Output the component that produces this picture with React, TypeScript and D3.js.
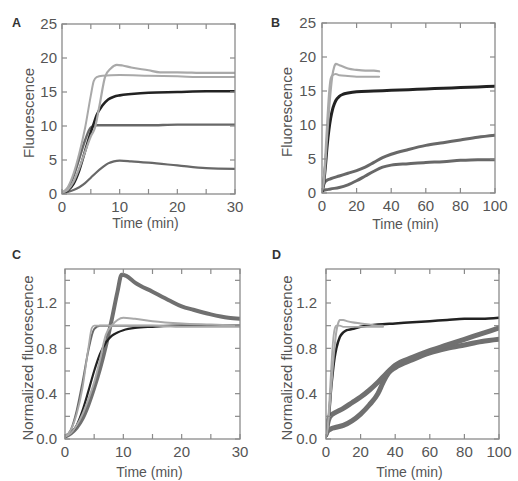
import React from "react";
import * as d3 from "d3";

// ---------- Panel A (Fluorescence, 0-30 min) ----------
const tA_L1 = [0, 1, 2, 3, 4, 5, 5.5, 6, 7, 10, 15, 20, 25, 30];
const vA_L1 = [0.2, 1, 3, 6, 9.7, 14.5, 16.6, 17.2, 17.4, 17.5, 17.4, 17.3, 17.2, 17.2];
const tA_L2 = [0, 1, 2, 3, 4, 5, 5.7, 6.5, 7.5, 8.5, 9.5, 10.5, 12, 15, 17, 20, 25, 30];
const vA_L2 = [0.2, 0.6, 1.8, 3.8, 6.2, 8.5, 9.7, 13, 17.3, 18.5, 19, 18.9, 18.6, 18.2, 17.9, 17.9, 17.8, 17.8];
const tA_K = [0, 1, 2, 3, 4, 5, 5.4, 6, 7, 8, 9, 10, 12, 15, 20, 25, 30];
const vA_K = [0.1, 0.5, 1.5, 3.5, 6.3, 9.1, 10.1, 11.6, 13, 13.9, 14.3, 14.5, 14.7, 14.9, 15.0, 15.1, 15.1];
const tA_G1 = [0, 1, 2, 3, 4, 5, 6, 8, 10, 15, 20, 25, 30];
const vA_G1 = [0.2, 0.8, 2.6, 5.2, 7.9, 9.8, 10.1, 10.1, 10.1, 10.1, 10.2, 10.2, 10.2];
const tA_G2 = [0, 1, 2, 3, 4, 5, 6, 7, 8, 9, 10, 12, 15, 20, 25, 30];
const vA_G2 = [0.2, 0.3, 0.6, 1, 1.6, 2.4, 3.2, 3.9, 4.5, 4.8, 4.9, 4.8, 4.6, 4.2, 3.8, 3.7];

// ---------- Panel B (Fluorescence, 0-100 min) ----------
const tB_L1 = [0, 1, 2, 3, 4, 5, 6, 8, 10, 15, 20, 25, 30, 33];
const vB_L1 = [0.3, 2, 6, 10.5, 14.5, 16.8, 17.3, 17.5, 17.3, 17.2, 17.1, 17.1, 17.1, 17.1];
const tB_L2 = [0, 1, 2, 3, 4, 5, 6, 7, 8, 10, 12, 15, 20, 25, 30, 33];
const vB_L2 = [0.3, 1.5, 4.5, 8.5, 12, 15, 17.3, 18.5, 19, 18.8, 18.6, 18.3, 18.1, 18, 18, 17.9];
const tB_K = [0, 1, 2, 3, 4, 5, 6, 7, 8, 10, 12, 15, 20, 30, 40, 50, 60, 70, 80, 90, 100];
const vB_K = [0.2, 1.5, 4, 7, 9.3, 11, 12.2, 13, 13.6, 14.2, 14.5, 14.7, 14.9, 15.0, 15.1, 15.2, 15.3, 15.4, 15.5, 15.6, 15.7];
const tB_G1 = [0, 1, 2, 3, 5, 10, 15, 20, 25, 30, 35, 40, 50, 60, 70, 80, 90, 100];
const vB_G1 = [0.3, 1.2, 1.7, 1.9, 2.1, 2.5, 2.9, 3.3, 3.8, 4.5, 5.2, 5.7, 6.4, 7.0, 7.4, 7.8, 8.2, 8.5];
const tB_G2 = [0, 1, 3, 5, 10, 15, 20, 25, 30, 35, 40, 50, 60, 70, 80, 90, 100];
const vB_G2 = [0.2, 0.4, 0.5, 0.6, 0.8, 1.2, 1.8, 2.5, 3.2, 3.8, 4.1, 4.3, 4.5, 4.6, 4.8, 4.9, 4.9];

// ---------- Panel C (Normalized, 0-30 min) ----------
const tC_L1 = [0, 1, 2, 3, 4, 4.6, 5, 6, 10, 15, 20, 25, 30];
const vC_L1 = [0.02, 0.08, 0.22, 0.45, 0.8, 0.98, 1.0, 1.0, 1.0, 1.0, 0.99, 0.99, 0.99];
const tC_L2 = [0, 1, 2, 3, 4, 5, 6, 7, 8, 9, 10, 12, 15, 20, 25, 30];
const vC_L2 = [0.02, 0.05, 0.12, 0.22, 0.35, 0.5, 0.7, 0.92, 1.0, 1.05, 1.07, 1.06, 1.04, 1.02, 1.01, 1.0];
const tC_K = [0, 1, 2, 3, 4, 5, 6, 7, 8, 9, 10, 12, 15, 20, 25, 30];
const vC_K = [0.02, 0.05, 0.12, 0.25, 0.42, 0.6, 0.75, 0.85, 0.91, 0.94, 0.96, 0.98, 0.99, 1.0, 1.0, 1.0];
const tC_G1 = [0, 1, 2, 3, 4, 5, 6, 8, 10, 15, 20, 25, 30];
const vC_G1 = [0.02, 0.08, 0.25, 0.5, 0.78, 0.97, 1.0, 1.0, 1.0, 1.0, 1.0, 1.0, 1.0];
const tC_G2 = [0, 1, 2, 3, 4, 5, 6, 7, 8, 9, 9.7, 10.5, 12, 15, 18, 20, 22, 25, 28, 30];
const vC_G2 = [0.02, 0.05, 0.1, 0.18, 0.3, 0.45, 0.62, 0.82, 1.05, 1.3, 1.45, 1.44, 1.38, 1.3, 1.22, 1.17, 1.14, 1.1, 1.07, 1.06];

// ---------- Panel D (Normalized, 0-100 min) ----------
const tD_L1 = [0, 1, 2, 3, 4, 5, 6, 8, 10, 15, 20, 25, 30, 33];
const vD_L1 = [0.02, 0.12, 0.35, 0.62, 0.85, 0.97, 1.0, 1.0, 0.99, 0.99, 0.99, 0.99, 0.99, 0.99];
const tD_L2 = [0, 1, 2, 3, 4, 5, 6, 7, 8, 10, 12, 15, 20, 25, 30, 33];
const vD_L2 = [0.02, 0.08, 0.25, 0.45, 0.65, 0.82, 0.95, 1.02, 1.05, 1.05, 1.04, 1.03, 1.02, 1.01, 1.0, 1.0];
const tD_K = [0, 1, 2, 3, 4, 5, 6, 8, 10, 12, 15, 20, 30, 40, 50, 60, 70, 80, 90, 100];
const vD_K = [0.02, 0.1, 0.25, 0.45, 0.6, 0.72, 0.8, 0.9, 0.94, 0.96, 0.97, 0.99, 1.01, 1.02, 1.03, 1.04, 1.05, 1.06, 1.06, 1.07];
const tD_G1 = [0, 1, 2, 3, 5, 10, 15, 20, 25, 30, 35, 40, 50, 60, 70, 80, 90, 100];
const vD_G1 = [0.04, 0.14, 0.19, 0.21, 0.23, 0.27, 0.32, 0.37, 0.43, 0.5, 0.58, 0.65, 0.72, 0.78, 0.83, 0.88, 0.93, 0.98];
const tD_G2 = [0, 1, 3, 5, 10, 15, 20, 25, 30, 33, 36, 40, 50, 60, 70, 80, 90, 100];
const vD_G2 = [0.04, 0.07, 0.09, 0.1, 0.12, 0.16, 0.22, 0.3, 0.4, 0.5, 0.58, 0.63, 0.7, 0.76, 0.8, 0.83, 0.86, 0.88];

// ---------- axes ----------
const ticksFluoY = [0, 5, 10, 15, 20, 25];
const labelsFluoY = [0, 5, 10, 15, 20, 25];
const ticksNormY = [0, 0.2, 0.4, 0.6, 0.8, 1.0, 1.2, 1.4];
const labelsNormY = [0, 0.4, 0.8, 1.2];
const ticksX30 = [0, 5, 10, 15, 20, 25, 30];
const labelsX30 = [0, 10, 20, 30];
const ticksX100 = [0, 20, 40, 60, 80, 100];
const labelsX100 = [0, 20, 40, 60, 80, 100];

const LIGHT = "#a9a9a9";
const BLACK = "#222";
const GRAY = "#686868";
const FONT = "Liberation Sans, Arial, Helvetica, sans-serif";

type Series = { t: number[]; v: number[]; color: string; w: number };

type PanelProps = {
  letter: string;
  letterX: number;
  letterY: number;
  left: number;
  right: number;
  top: number;
  bottom: number;
  xMax: number;
  yMax: number;
  xTicks: number[];
  xLabels: number[];
  yTicks: number[];
  yLabels: number[];
  yFmt: (d: number) => string;
  yTitle: string;
  yTitleX: number;
  xTitleY: number;
  yLabelGap: number;
  series: Series[];
};

function Panel(p: PanelProps) {
  const x = d3.scaleLinear().domain([0, p.xMax]).range([p.left, p.right]);
  const y = d3.scaleLinear().domain([0, p.yMax]).range([p.bottom, p.top]);
  const line = d3
    .line<[number, number]>()
    .x((d) => x(d[0]))
    .y((d) => y(d[1]))
    .curve(d3.curveMonotoneX);
  const tl = 5;
  const frame = "#8a8a8a";
  const clipId = "clip" + p.letter;
  return (
    <g>
      <defs>
        <clipPath id={clipId}>
          <rect x={p.left} y={p.top} width={p.right - p.left} height={p.bottom - p.top} />
        </clipPath>
      </defs>
      <g clipPath={`url(#${clipId})`}>
        {p.series.map((s, i) => (
          <path
            key={i}
            d={line(s.t.map((t, j) => [t, s.v[j]] as [number, number])) || ""}
            fill="none"
            stroke={s.color}
            strokeWidth={s.w}
            strokeLinejoin="round"
            strokeLinecap="round"
          />
        ))}
      </g>
      <rect
        x={p.left}
        y={p.top}
        width={p.right - p.left}
        height={p.bottom - p.top}
        fill="none"
        stroke={frame}
        strokeWidth={1.3}
      />
      {p.xTicks.map((t) => (
        <g key={"xt" + t}>
          <line x1={x(t)} x2={x(t)} y1={p.bottom} y2={p.bottom - tl} stroke={frame} strokeWidth={1.2} />
          <line x1={x(t)} x2={x(t)} y1={p.top} y2={p.top + tl} stroke={frame} strokeWidth={1.2} />
        </g>
      ))}
      {p.yTicks.map((t) => (
        <g key={"yt" + t}>
          <line x1={p.left} x2={p.left + tl} y1={y(t)} y2={y(t)} stroke={frame} strokeWidth={1.2} />
          <line x1={p.right} x2={p.right - tl} y1={y(t)} y2={y(t)} stroke={frame} strokeWidth={1.2} />
        </g>
      ))}
      {p.xLabels.map((t) => (
        <text
          key={"xl" + t}
          x={x(t)}
          y={p.bottom + 17.5}
          textAnchor="middle"
          fontSize={15}
          fill="#555"
          fontFamily={FONT}
        >
          {t}
        </text>
      ))}
      {p.yLabels.map((t) => (
        <text
          key={"yl" + t}
          x={p.left - p.yLabelGap}
          y={y(t)}
          dy="0.36em"
          textAnchor="end"
          fontSize={15}
          fill="#555"
          fontFamily={FONT}
        >
          {p.yFmt(t)}
        </text>
      ))}
      <text
        x={(p.left + p.right) / 2 - 3}
        y={p.xTitleY}
        textAnchor="middle"
        fontSize={14}
        fill="#555"
        fontFamily={FONT}
      >
        Time (min)
      </text>
      <text
        transform={`translate(${p.yTitleX},${(p.top + p.bottom) / 2 + 4}) rotate(-90)`}
        textAnchor="middle"
        fontSize={15}
        fill="#555"
        fontFamily={FONT}
      >
        {p.yTitle}
      </text>
      <text x={p.letterX} y={p.letterY} fontSize={12.5} fontWeight="bold" fill="#333" fontFamily={FONT}>
        {p.letter}
      </text>
    </g>
  );
}

export default function App() {
  const fmtInt = (d: number) => String(d);
  const fmt1 = (d: number) => d.toFixed(1);
  return (
    <svg
      width={518}
      height={481}
      style={{ position: "absolute", left: 0, top: 0, background: "#fff" }}
    >
      <rect x={0} y={0} width={518} height={481} fill="#fff" />
      <Panel
        letter="A"
        letterX={12}
        letterY={27}
        left={62}
        right={235}
        top={24}
        bottom={194}
        xMax={30}
        yMax={25}
        xTicks={ticksX30}
        xLabels={labelsX30}
        yTicks={ticksFluoY}
        yLabels={labelsFluoY}
        yFmt={fmtInt}
        yTitle="Fluorescence"
        yTitleX={34}
        xTitleY={228}
        yLabelGap={5}
        series={[
          { t: tA_G2, v: vA_G2, color: GRAY, w: 2.2 },
          { t: tA_G1, v: vA_G1, color: GRAY, w: 2.4 },
          { t: tA_K, v: vA_K, color: BLACK, w: 2.6 },
          { t: tA_L2, v: vA_L2, color: LIGHT, w: 2.2 },
          { t: tA_L1, v: vA_L1, color: LIGHT, w: 2.0 },
        ]}
      />
      <Panel
        letter="B"
        letterX={271}
        letterY={27}
        left={322}
        right={495}
        top={23}
        bottom={193}
        xMax={100}
        yMax={25}
        xTicks={ticksX100}
        xLabels={labelsX100}
        yTicks={ticksFluoY}
        yLabels={labelsFluoY}
        yFmt={fmtInt}
        yTitle="Fluorescence"
        yTitleX={292}
        xTitleY={229}
        yLabelGap={6}
        series={[
          { t: tB_G2, v: vB_G2, color: GRAY, w: 3 },
          { t: tB_G1, v: vB_G1, color: GRAY, w: 3 },
          { t: tB_K, v: vB_K, color: BLACK, w: 3 },
          { t: tB_L2, v: vB_L2, color: LIGHT, w: 2.2 },
          { t: tB_L1, v: vB_L1, color: LIGHT, w: 2.0 },
        ]}
      />
      <Panel
        letter="C"
        letterX={12}
        letterY={259}
        left={65}
        right={240}
        top={269}
        bottom={439}
        xMax={30}
        yMax={1.5}
        xTicks={ticksX30}
        xLabels={labelsX30}
        yTicks={ticksNormY}
        yLabels={labelsNormY}
        yFmt={fmt1}
        yTitle="Normalized fluorescence"
        yTitleX={33}
        xTitleY={477}
        yLabelGap={8}
        series={[
          { t: tC_G2, v: vC_G2, color: "#707070", w: 4 },
          { t: tC_K, v: vC_K, color: BLACK, w: 2.2 },
          { t: tC_G1, v: vC_G1, color: GRAY, w: 2 },
          { t: tC_L2, v: vC_L2, color: LIGHT, w: 2 },
          { t: tC_L1, v: vC_L1, color: LIGHT, w: 1.8 },
        ]}
      />
      <Panel
        letter="D"
        letterX={272}
        letterY={259}
        left={326}
        right={499}
        top={269}
        bottom={439}
        xMax={100}
        yMax={1.5}
        xTicks={ticksX100}
        xLabels={labelsX100}
        yTicks={ticksNormY}
        yLabels={labelsNormY}
        yFmt={fmt1}
        yTitle="Normalized fluorescence"
        yTitleX={292}
        xTitleY={477}
        yLabelGap={9}
        series={[
          { t: tD_G2, v: vD_G2, color: "#707070", w: 5 },
          { t: tD_G1, v: vD_G1, color: "#707070", w: 5 },
          { t: tD_K, v: vD_K, color: BLACK, w: 2.5 },
          { t: tD_L2, v: vD_L2, color: LIGHT, w: 2 },
          { t: tD_L1, v: vD_L1, color: LIGHT, w: 1.8 },
        ]}
      />
    </svg>
  );
}
